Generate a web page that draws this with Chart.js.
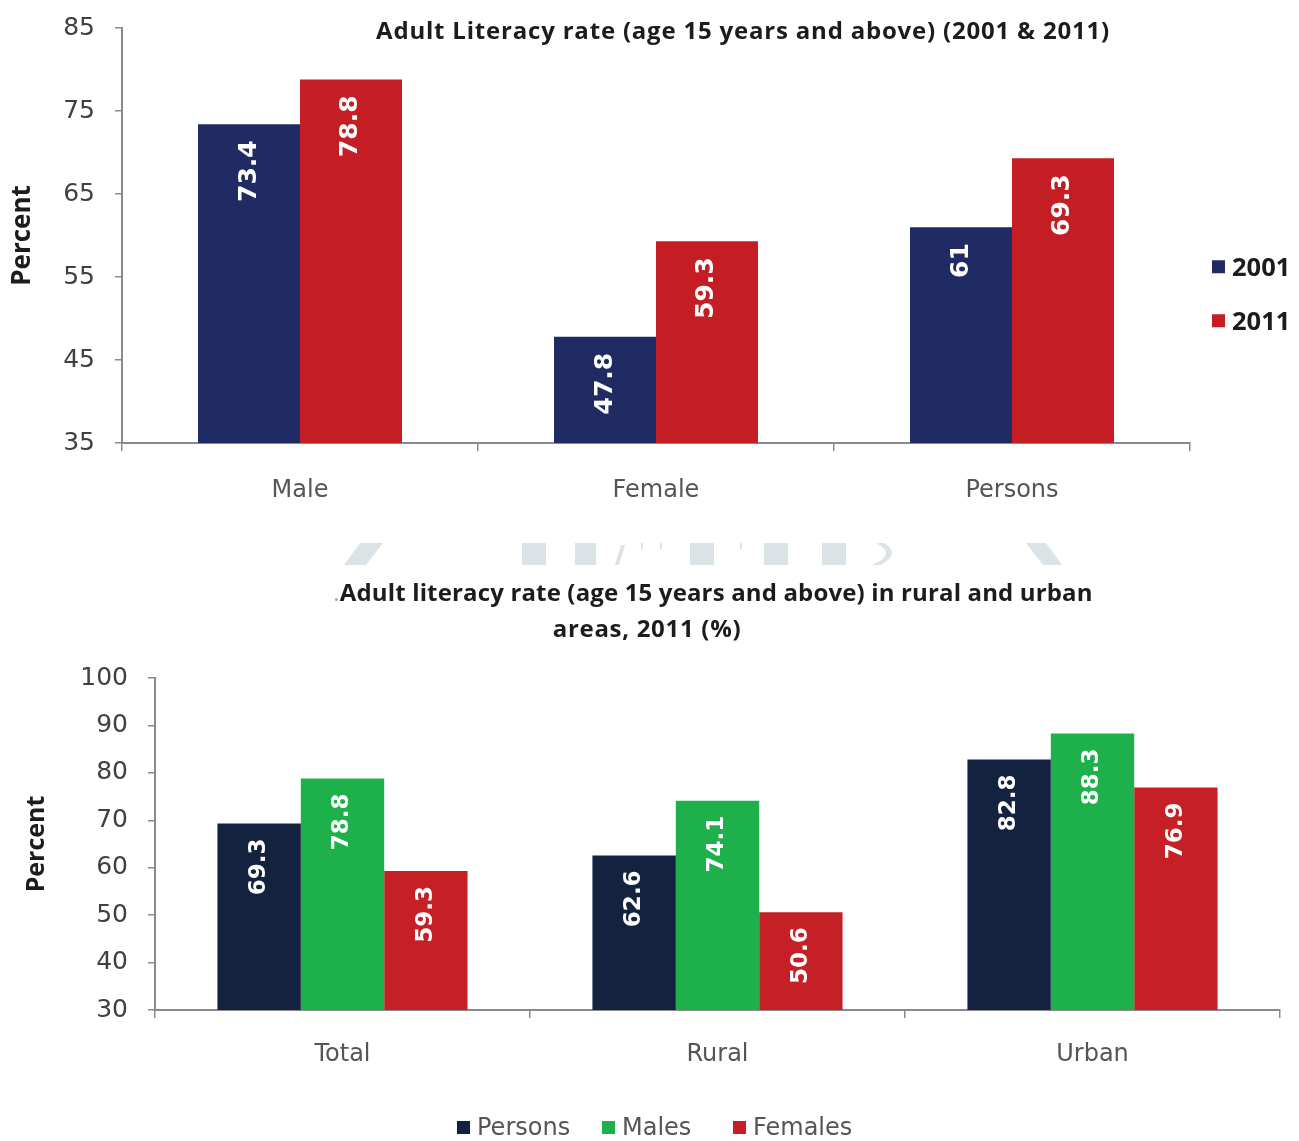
<!DOCTYPE html>
<html>
<head>
<meta charset="utf-8">
<title>Adult Literacy rate</title>
<script src="https://cdn.jsdelivr.net/npm/chart.js@4.4.1/dist/chart.umd.min.js"></script>
<style>
  html, body { margin: 0; padding: 0; background: #ffffff; }
  #page { position: relative; width: 1299px; height: 1141px; overflow: hidden; background: #fff; }
  .box { position: absolute; left: 0; }
  .title { position: absolute; white-space: nowrap; font-family: "Open Sans", sans-serif; font-weight: 700; color: #1c1c1c; font-size: 24px; line-height: 1; transform: translate(-50%, -50%); }
  .legend-item { position: absolute; white-space: nowrap; display: flex; align-items: center; line-height: 1; }
  .legend-item i { display: inline-block; width: 13px; height: 13px; margin-right: 7px; }
  .leg-top { font-family: "Open Sans", sans-serif; font-weight: 700; font-size: 25.5px; color: #1c1c1c; transform: translateY(-50%); }
  .leg-bottom { font-family: "DejaVu Sans", sans-serif; font-size: 24px; color: #555; transform: translateY(-50%); }
  #band { position: absolute; left: 0; top: 535px; }
</style>
</head>
<body>
<div id="page">
  <div class="box" style="top:0;width:1299px;height:530px;"><canvas id="yearChart"></canvas></div>
  <div class="box" style="top:530px;width:1299px;height:611px;"><canvas id="areaChart"></canvas></div>

  <!-- faint decorative band between the two charts -->
  <svg id="band" width="1299" height="40" viewBox="0 0 1299 40">
    <g fill="#dce3e7">
      <polygon points="360,8 383,8 366,30 344,30"/>
      <rect x="522" y="8" width="24" height="22"/>
      <rect x="575" y="8" width="21" height="22"/>
      <polygon points="621,10 625,10 619,30 615,30"/>
      <rect x="641" y="8" width="2" height="6"/>
      <rect x="660" y="8" width="2" height="6"/>
      <rect x="690" y="8" width="24" height="22"/>
      <rect x="740" y="8" width="2" height="6"/>
      <rect x="764" y="8" width="24" height="22"/>
      <rect x="822" y="8" width="24" height="22"/>
      <path d="M876,8 Q898,19 872,30 L880,30 Q902,19 884,8 Z"/>
      <polygon points="1026,8 1046,8 1062,30 1043,30"/>
    </g>
  </svg>

  <div class="title" style="left:743px;top:30px;letter-spacing:0.8px;">Adult Literacy rate (age 15 years and above) (2001 &amp; 2011)</div>
  <div class="legend-item leg-top" style="left:1212px;top:267px;"><i style="background:#1f2b62"></i>2001</div>
  <div class="legend-item leg-top" style="left:1212px;top:321px;"><i style="background:#c41e24"></i>2011</div>

  <div class="title" style="left:713px;top:592px;letter-spacing:0.15px;"><span style="color:#aaa;font-weight:400">.</span>Adult literacy rate (age 15 years and above) in rural and urban</div>
  <div class="title" style="left:647px;top:628px;letter-spacing:0.7px;">areas, 2011 (%)</div>

  <div class="legend-item leg-bottom" style="left:457px;top:1127px;"><i style="background:#13233f"></i>Persons</div>
  <div class="legend-item leg-bottom" style="left:602px;top:1127px;"><i style="background:#1db04b"></i>Males</div>
  <div class="legend-item leg-bottom" style="left:733px;top:1127px;"><i style="background:#c52026"></i>Females</div>
</div>

<script>
// Literacy by sex, 2001 vs 2011
const sexCategories = ['Male', 'Female', 'Persons'];
const rate2001 = [73.4, 47.8, 61];
const rate2011 = [78.8, 59.3, 69.3];
const yearAxisTicks = [35, 45, 55, 65, 75, 85];

// Literacy by area, 2011
const areaCategories = ['Total', 'Rural', 'Urban'];
const personsRate = [69.3, 62.6, 82.8];
const malesRate = [78.8, 74.1, 88.3];
const femalesRate = [59.3, 50.6, 76.9];
const areaAxisTicks = [30, 40, 50, 60, 70, 80, 90, 100];

Chart.defaults.font.family = '"DejaVu Sans", sans-serif';
Chart.defaults.animation = false;

// Writes each bar's value, rotated, just inside the top of the bar
const barValueLabels = {
  id: 'barValueLabels',
  afterDatasetsDraw(chart, args, opts) {
    const ctx = chart.ctx;
    chart.data.datasets.forEach((ds, di) => {
      const meta = chart.getDatasetMeta(di);
      meta.data.forEach((bar, i) => {
        ctx.save();
        ctx.translate(bar.x, bar.y + opts.offset);
        ctx.rotate(-Math.PI / 2);
        ctx.font = opts.font;
        ctx.fillStyle = '#ffffff';
        ctx.textAlign = 'right';
        ctx.textBaseline = 'middle';
        ctx.fillText(String(ds.data[i]), 0, 0);
        ctx.restore();
      });
    });
  }
};

function axisOptions(cfg) {
  return {
    x: {
      grid: { display: true, drawOnChartArea: false, drawTicks: true, tickLength: 8, color: '#8a8a8a', lineWidth: 1.5 },
      border: { display: true, color: '#8a8a8a', width: 2 },
      ticks: { color: '#555555', font: { size: 24 }, padding: cfg.xPad },
      afterFit(scale) { scale.height = cfg.xHeight; }
    },
    y: {
      min: cfg.min, max: cfg.max,
      afterBuildTicks(scale) { scale.ticks = cfg.ticks.map(v => ({ value: v })); },
      grid: { display: true, drawOnChartArea: false, drawTicks: true, tickLength: 7, color: '#8a8a8a', lineWidth: 1.5 },
      border: { display: true, color: '#8a8a8a', width: 2 },
      ticks: { color: '#404040', font: { size: 25 }, padding: cfg.yPad },
      title: { display: true, text: 'Percent', color: '#1c1c1c', font: { family: '"Open Sans", sans-serif', size: cfg.titleSize, weight: 'bold' }, padding: { top: cfg.titlePad, bottom: 0 } },
      afterFit(scale) {
        scale.width = cfg.yWidth;
        scale.paddingTop = 0;
        scale.paddingBottom = 0;
      }
    }
  };
}

new Chart(document.getElementById('yearChart'), {
  type: 'bar',
  data: {
    labels: sexCategories,
    datasets: [
      { label: '2001', data: rate2001, backgroundColor: '#1f2b62', barPercentage: 1, categoryPercentage: 0.573 },
      { label: '2011', data: rate2011, backgroundColor: '#c41e24', barPercentage: 1, categoryPercentage: 0.573 }
    ]
  },
  options: {
    responsive: true,
    maintainAspectRatio: false,
    layout: { padding: { top: 28, right: 109, left: 0, bottom: 0 } },
    scales: axisOptions({ min: 35, max: 85, ticks: yearAxisTicks, yWidth: 122, xHeight: 87, xPad: 25, yPad: 20, titlePad: 7, titleSize: 26 }),
    plugins: {
      legend: { display: false },
      tooltip: { enabled: false },
      barValueLabels: { offset: 16, font: 'bold 25px "DejaVu Sans"' }
    }
  },
  plugins: [barValueLabels]
});

new Chart(document.getElementById('areaChart'), {
  type: 'bar',
  data: {
    labels: areaCategories,
    datasets: [
      { label: 'Persons', data: personsRate, backgroundColor: '#13233f', barPercentage: 1, categoryPercentage: 0.667 },
      { label: 'Males', data: malesRate, backgroundColor: '#1db04b', barPercentage: 1, categoryPercentage: 0.667 },
      { label: 'Females', data: femalesRate, backgroundColor: '#c52026', barPercentage: 1, categoryPercentage: 0.667 }
    ]
  },
  options: {
    responsive: true,
    maintainAspectRatio: false,
    layout: { padding: { top: 148, right: 19, left: 0, bottom: 0 } },
    scales: axisOptions({ min: 30, max: 100, ticks: areaAxisTicks, yWidth: 155, xHeight: 131, xPad: 22, yPad: 20, titlePad: 22, titleSize: 25 }),
    plugins: {
      legend: { display: false },
      tooltip: { enabled: false },
      barValueLabels: { offset: 15, font: 'bold 23px "DejaVu Sans"' }
    }
  },
  plugins: [barValueLabels]
});
</script>
</body>
</html>
